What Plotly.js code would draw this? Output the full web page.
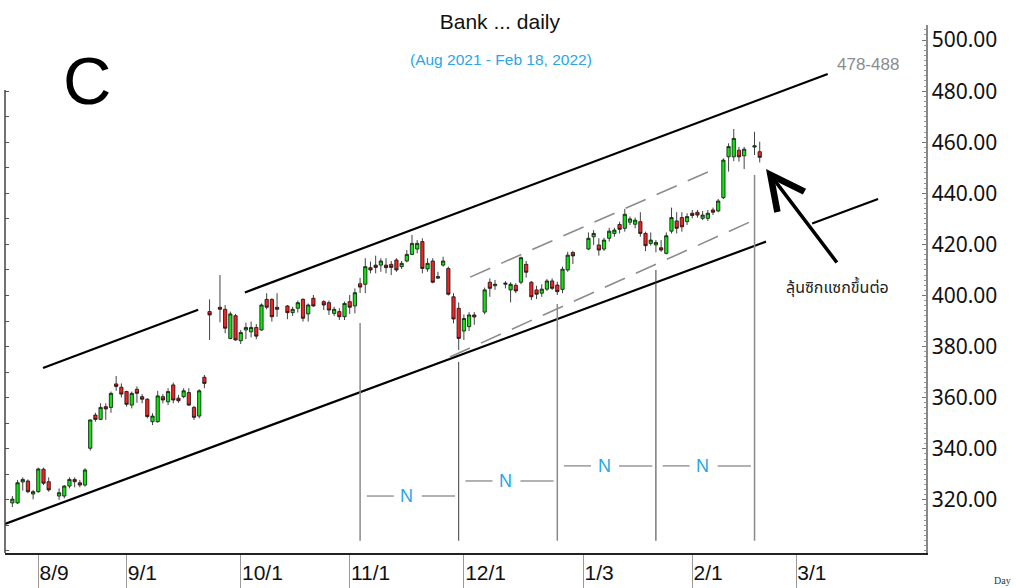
<!DOCTYPE html>
<html>
<head>
<meta charset="utf-8">
<script src="https://cdn.plot.ly/plotly-3.0.1.min.js"></script>
<style>html,body{margin:0;padding:0;background:#fff;}#chart{width:1016px;height:588px;}</style>
</head>
<body>
<div id="chart"></div>
<script>
// ---------- data ----------
const dates = [
'2021-08-02','2021-08-03','2021-08-04','2021-08-05','2021-08-06','2021-08-09','2021-08-10','2021-08-11','2021-08-13',
'2021-08-16','2021-08-17','2021-08-18','2021-08-19','2021-08-20','2021-08-23','2021-08-24','2021-08-25','2021-08-26','2021-08-27',
'2021-08-30','2021-08-31','2021-09-01','2021-09-02','2021-09-03','2021-09-06','2021-09-07','2021-09-08','2021-09-09','2021-09-10',
'2021-09-13','2021-09-14','2021-09-15','2021-09-16','2021-09-17','2021-09-20','2021-09-21','2021-09-22','2021-09-23',
'2021-09-27','2021-09-28','2021-09-29','2021-09-30','2021-10-01','2021-10-04','2021-10-05','2021-10-06','2021-10-07','2021-10-08',
'2021-10-11','2021-10-12','2021-10-14','2021-10-15','2021-10-18','2021-10-19','2021-10-20','2021-10-21',
'2021-10-25','2021-10-26','2021-10-27','2021-10-28','2021-10-29','2021-11-01','2021-11-02','2021-11-03','2021-11-04','2021-11-05',
'2021-11-08','2021-11-09','2021-11-10','2021-11-11','2021-11-12','2021-11-15','2021-11-16','2021-11-17','2021-11-18','2021-11-19',
'2021-11-22','2021-11-23','2021-11-24','2021-11-25','2021-11-26','2021-11-29','2021-11-30','2021-12-01','2021-12-02','2021-12-03',
'2021-12-07','2021-12-08','2021-12-09','2021-12-13','2021-12-14','2021-12-15','2021-12-16','2021-12-17',
'2021-12-20','2021-12-21','2021-12-22','2021-12-23','2021-12-24','2021-12-27','2021-12-28','2021-12-29','2021-12-30',
'2022-01-04','2022-01-05','2022-01-06','2022-01-07','2022-01-10','2022-01-11','2022-01-12','2022-01-13','2022-01-14',
'2022-01-17','2022-01-18','2022-01-19','2022-01-20','2022-01-21','2022-01-24','2022-01-25','2022-01-26','2022-01-27','2022-01-28',
'2022-01-31','2022-02-01','2022-02-02','2022-02-03','2022-02-04','2022-02-07','2022-02-08','2022-02-09','2022-02-10','2022-02-11',
'2022-02-14','2022-02-15','2022-02-17','2022-02-18'];
const openP = [
318.8,318.8,327.0,327.4,322.3,323.2,332.0,327.1,321.5,
321.5,325.4,328.0,326.7,325.8,340.2,353.2,351.5,356.5,356.2,
365.4,364.1,362.4,357.1,363.3,360.4,359.4,350.6,350.6,360.4,
358.4,365.0,359.8,360.4,362.0,356.2,352.8,368.0,393.7,
395.4,394.6,383.2,392.1,382.3,386.5,385.8,387.5,386.5,398.5,
398.5,395.4,395.9,393.3,395.0,398.5,392.8,398.9,
397.6,397.2,393.0,393.7,391.7,397.6,395.9,404.6,404.4,410.9,
411.9,411.9,411.9,412.2,413.9,411.3,413.5,416.1,418.2,421.1,
410.4,413.5,406.8,411.9,410.6,399.5,395.0,386.1,387.8,392.4,
393.5,405.2,403.8,404.4,402.2,404.0,405.2,412.2,
405.2,402.2,400.9,402.5,405.7,404.1,402.4,410.0,416.8,
418.2,423.0,419.8,418.2,422.4,424.3,427.8,426.3,428.7,
427.9,428.9,424.3,420.4,419.8,418.7,416.5,425.2,429.2,430.5,
428.9,432.2,432.6,430.2,430.2,433.5,433.1,438.3,454.3,454.3,
456.9,454.7,458.1,456.3];
const highP = [
321.5,327.8,328.8,328.0,323.9,332.6,332.6,328.8,324.5,
325.8,328.8,328.8,327.8,332.4,351.5,354.1,357.8,357.8,362.4,
368.5,365.6,362.7,362.4,364.4,361.4,359.8,353.9,362.7,361.4,
363.7,365.9,361.1,363.7,363.7,356.8,363.3,368.9,398.5,
408.0,396.3,393.7,392.8,386.5,389.4,389.8,388.8,396.9,400.9,
398.9,400.9,396.3,395.6,398.0,398.9,396.9,400.2,
398.2,398.0,395.6,395.0,397.6,400.2,402.8,406.9,414.6,413.3,
415.6,414.6,414.6,413.5,414.6,413.5,417.8,423.7,421.7,422.4,
414.6,414.6,409.3,415.2,411.3,400.9,397.3,392.6,393.5,393.5,
403.1,406.7,406.1,405.6,405.2,404.8,415.2,413.5,
405.6,403.8,404.4,406.5,406.7,405.4,411.3,417.1,417.5,
424.7,425.6,422.4,422.6,426.5,426.5,428.9,433.9,430.9,
430.5,432.6,425.0,424.7,421.7,421.7,424.7,434.4,432.6,432.6,
432.2,433.5,433.5,433.1,433.5,434.4,437.8,453.7,459.6,465.2,
458.2,458.2,464.1,460.2];
const lowP = [
317.2,318.4,323.6,322.6,320.2,322.8,325.8,323.2,320.0,
320.6,324.5,324.9,324.9,325.2,339.3,350.6,351.3,351.3,354.1,
362.7,360.1,356.5,355.8,358.0,357.8,351.9,349.3,350.2,357.8,
357.1,357.8,358.0,359.8,356.8,351.3,351.9,363.7,382.6,
389.5,385.2,382.9,382.3,381.0,382.9,383.6,382.9,386.2,394.6,
389.8,391.7,390.7,392.0,393.3,389.8,389.8,395.6,
394.3,392.4,392.0,390.4,390.4,392.8,393.0,401.0,400.9,408.7,
408.7,409.3,408.7,408.0,409.3,410.4,413.0,415.8,416.5,408.7,
409.3,404.8,406.5,411.3,400.0,389.1,378.7,382.6,386.1,388.5,
392.6,399.5,402.2,402.8,397.3,400.9,404.4,407.0,
398.2,398.6,399.5,401.8,402.2,400.2,400.9,409.3,412.3,
417.8,419.8,415.6,417.4,421.1,423.0,424.3,425.0,427.6,
426.3,423.0,417.4,419.5,416.9,417.1,416.1,424.3,424.3,425.0,
427.6,430.2,430.5,429.5,429.2,431.5,432.6,437.8,448.5,452.6,
452.4,449.5,455.0,452.1];
const closeP = [
320.3,326.7,328.0,323.2,323.2,332.1,326.5,323.9,322.8,
325.4,328.0,327.1,325.8,331.7,351.3,351.5,356.2,355.6,361.7,
364.4,361.4,357.4,361.7,361.7,359.4,352.6,352.8,360.7,359.1,
362.4,359.1,358.8,362.7,357.1,352.3,362.7,365.6,392.4,
394.6,387.2,392.8,382.6,385.5,387.5,387.5,384.1,396.3,395.4,
391.7,394.6,393.3,394.6,397.2,391.1,396.3,395.9,
396.3,394.3,394.6,391.7,396.9,395.4,401.1,403.3,411.3,410.0,
411.0,413.5,410.9,411.0,410.0,412.6,416.1,420.4,420.4,410.6,
412.6,405.2,407.4,413.5,400.5,390.8,383.2,391.0,392.4,391.6,
402.2,402.8,404.4,404.8,404.4,401.8,414.8,409.1,
399.5,400.5,402.5,405.7,402.8,401.5,410.3,415.8,415.5,
422.4,424.3,417.8,421.7,425.2,425.6,425.9,431.8,430.0,
429.5,424.3,419.5,421.7,420.8,417.8,423.4,430.5,426.3,426.9,
430.9,431.3,431.5,431.5,432.2,432.6,437.0,453.0,458.3,461.5,
454.3,457.3,458.6,454.1];

// axis tick labels
const tickDates  = ['2021-08-09','2021-09-01','2021-10-01','2021-11-01','2021-12-01','2022-01-03','2022-02-01','2022-03-01'];
const tickLabels = ['8/9','9/1','10/1','11/1','12/1','1/3','2/1','3/1'];
const priceTicks = [320,340,360,380,400,420,440,460,480,500];

// drawn trend lines: [date0, price0, date1, price1]
const channelLines = [
  ['2021-08-09 21:36', 371.6, '2021-09-20 19:12', 394.4],
  ['2021-10-01 19:12', 401.2, '2022-03-09 02:24', 486.7],
  ['2021-07-29 13:55', 310.6, '2022-02-21 04:48', 421.1],
  ['2022-03-04 02:24', 428.2, '2022-03-22 19:12', 437.8]
];
const innerChannel = [
  ['2021-12-02 04:48', 407.2, '2022-02-07 19:12', 450.0],
  ['2021-11-26 07:12', 375.9, '2022-02-16 02:24', 428.8]
];
// time-cycle verticals (every 19 trading days)
const cycleDates = ['2021-11-03','2021-11-30','2021-12-27','2022-01-21','2022-02-17'];
const cycleTops  = [389.2, 374.0, 396.7, 410.0, 447.2];
const cycleBottom = 304.0;
const nLevels = [321.5, 327.4, 333.3, 333.3];

// ---------- helpers ----------
const BASE = Date.UTC(2021, 7, 9); // Monday 9 Aug 2021
function wd(s) { // trading-day (weekday) position
  const m = s.match(/(\d+)-(\d+)-(\d+)(?:\s+(\d+):(\d+))?/);
  const t = Date.UTC(+m[1], +m[2] - 1, +m[3]);
  const frac = m[4] ? (+m[4] + (+m[5]) / 60) / 24 : 0;
  const days = Math.round((t - BASE) / 86400000);
  const weeks = Math.floor(days / 7);
  const r = days - weeks * 7;
  return weeks * 5 + Math.min(r, 5) + frac;
}

const xs = dates.map(wd);

const traces = [{
  type: 'candlestick', x: xs, open: openP, high: highP, low: lowP, close: closeP,
  increasing: {line: {color: '#111', width: 0.8}, fillcolor: '#0fe60f'},
  decreasing: {line: {color: '#111', width: 0.8}, fillcolor: '#f52222'},
  whiskerwidth: 0, hoverinfo: 'skip', showlegend: false
}, {
  type: 'scatter', x: [xs[0]], y: [400], yaxis: 'y2', mode: 'markers',
  marker: {opacity: 0}, hoverinfo: 'skip', showlegend: false
}];

const shapes = [];
channelLines.forEach(s => shapes.push({type: 'line', xref: 'x', yref: 'y',
  x0: wd(s[0]), y0: s[1], x1: wd(s[2]), y1: s[3], line: {color: '#000', width: 2.2}}));
innerChannel.forEach(s => shapes.push({type: 'line', xref: 'x', yref: 'y',
  x0: wd(s[0]), y0: s[1], x1: wd(s[2]), y1: s[3], line: {color: '#8c8c8c', width: 1.6, dash: '22px,12px'}}));
const cycleX = cycleDates.map(wd);
cycleX.forEach((cx, i) => shapes.push({type: 'line', xref: 'x', yref: 'y',
  x0: cx, x1: cx, y0: cycleBottom, y1: cycleTops[i],
  line: {color: i % 2 ? '#3a3a3a' : '#8a8a8a', width: i % 2 ? 1 : 1.5}}));
const annotations = [];
nLevels.forEach((lv, i) => {
  const b = cycleX[i];
  shapes.push({type: 'line', xref: 'x', yref: 'y', x0: b + 1.3, x1: b + 6.5, y0: lv, y1: lv, line: {color: '#999', width: 1.5}});
  shapes.push({type: 'line', xref: 'x', yref: 'y', x0: b + 11.9, x1: b + 18.3, y0: lv, y1: lv, line: {color: '#999', width: 1.5}});
  annotations.push({xref: 'x', yref: 'y', x: b + 9.0, y: lv, xanchor: 'center', yanchor: 'middle', text: 'N', showarrow: false,
    font: {family: 'Liberation Sans, Arial, sans-serif', size: 18, color: '#2aa6e6'}});
});
// left border line
shapes.push({type: 'line', xref: 'paper', yref: 'paper', x0: 0, x1: 0, y0: 0, y1: 0.877, line: {color: '#444', width: 1.5}});

annotations.push(
  {xref: 'paper', yref: 'paper', x: 0.5385, y: 0.9356, xanchor: 'center', yanchor: 'middle',
   text: '(Aug 2021 - Feb 18, 2022)', showarrow: false,
   font: {family: 'Liberation Sans, Arial, sans-serif', size: 15.5, color: '#2aa6e6'}},
  {xref: 'paper', yref: 'paper', x: 0.0889, y: 0.895, xanchor: 'center', yanchor: 'middle',
   text: 'C', showarrow: false,
   font: {family: 'Liberation Sans, Arial, sans-serif', size: 67, color: '#000'}},
  {xref: 'paper', yref: 'paper', x: 0.937, y: 0.9261, xanchor: 'center', yanchor: 'middle',
   text: '478-488', showarrow: false,
   font: {family: 'Liberation Sans, Arial, sans-serif', size: 17, color: '#8c8c8c'}},
  {xref: 'paper', yref: 'paper', x: 0.9034, y: 0.5019, xanchor: 'center', yanchor: 'middle',
   text: 'ลุ้นซิกแซกขึ้นต่อ', showarrow: false,
   font: {family: 'Noto Sans Thai, Noto Sans, DejaVu Sans, sans-serif', size: 16, color: '#222'}},
  {xref: 'paper', yref: 'paper', x: 0.8263, y: 0.7273, text: '', showarrow: true,
   ax: 72, ay: 95, arrowhead: 5, arrowsize: 1.9, arrowwidth: 3.5, arrowcolor: '#000', standoff: 0},
  {xref: 'paper', yref: 'paper', x: 1.072, y: -0.052, xanchor: 'left', yanchor: 'middle', text: 'Day', showarrow: false,
   font: {family: 'Liberation Serif, serif', size: 10, color: '#333'}}
);

const layout = {
  width: 1016, height: 588,
  margin: {l: 5, r: 90, t: 25, b: 35},
  paper_bgcolor: '#fff', plot_bgcolor: '#fff', showlegend: false,
  boxgap: 0.1,
  title: {text: 'Bank ... daily', x: 0.492, xanchor: 'center', xref: 'container',
          y: 1 - 22 / 588, yanchor: 'middle', yref: 'container',
          font: {family: 'Liberation Sans, Arial, sans-serif', size: 21, color: '#111'}},
  xaxis: {type: 'linear', range: [-6.42, 171.04], showgrid: false, zeroline: false,
          showline: true, linecolor: '#222', linewidth: 1.5,
          ticks: 'outside', ticklen: 35, tickcolor: '#999', tickwidth: 1,
          tickmode: 'array', tickvals: tickDates.map(wd), ticktext: tickLabels,
          ticklabelposition: 'outside right',
          tickfont: {family: 'Liberation Sans, Arial, sans-serif', size: 21, color: '#111'},
          rangeslider: {visible: false}, fixedrange: true},
  yaxis: {side: 'right', range: [299.2, 505.9], showgrid: false, zeroline: false,
          showline: true, linecolor: '#888', linewidth: 1.5,
          ticks: 'inside', ticklen: 4, tickcolor: '#777',
          tickmode: 'array', tickvals: priceTicks, tickformat: '.2f',
          tickfont: {family: 'Noto Sans, sans-serif', size: 21, color: '#111'},
          minor: {ticks: 'inside', ticklen: 2, tickmode: 'linear', tick0: 0, dtick: 2, tickcolor: '#999'},
          fixedrange: true},
  yaxis2: {overlaying: 'y', side: 'left', range: [299.2, 505.9], showgrid: false, zeroline: false,
           showline: false, ticks: 'inside', ticklen: 4, tickcolor: '#555',
           tickmode: 'array', tickvals: [300,310,320,330,340,350,360,370,380,390,400,410,420,430,440,450,460,470,480],
           showticklabels: false, fixedrange: true},
  shapes: shapes, annotations: annotations
};

Plotly.newPlot('chart', traces, layout, {staticPlot: true, displayModeBar: false});
</script>
</body>
</html>
